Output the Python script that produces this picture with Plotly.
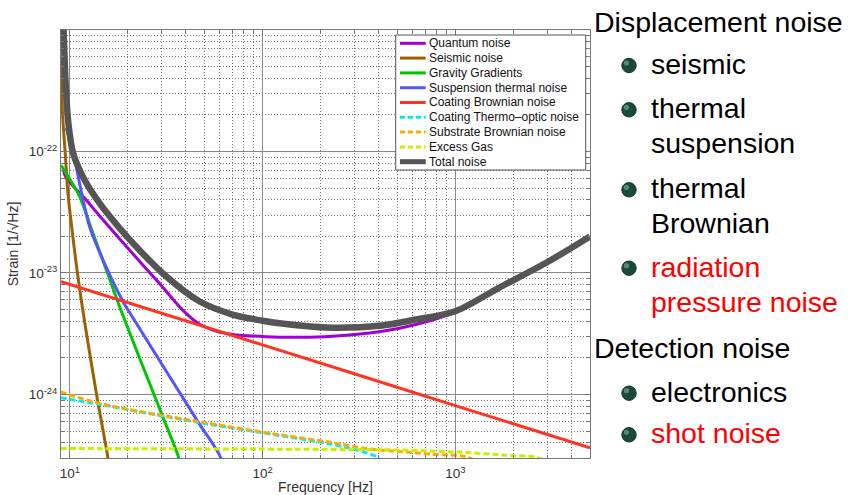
import math
import plotly.graph_objects as go

# ---------------- data (Hz, strain 1/sqrt(Hz)) ----------------
quantum_f = [9.28, 9.58, 11.92, 14.25, 19.6, 29.2, 38.5, 47.0, 57.4, 69.9, 104, 155, 230, 419, 624, 1000, 1684,
             3058, 5000]
quantum_h = [6.94e-23, 6.04e-23, 4.14e-23, 2.96e-23, 1.66e-23, 8.18e-24, 4.95e-24, 3.80e-24, 3.32e-24, 3.12e-24,
             2.99e-24, 2.96e-24, 3.02e-24, 3.32e-24, 3.77e-24, 4.77e-24, 7.45e-24, 1.23e-23, 1.95e-23]

seismic_f = [9.00, 9.17, 9.44, 9.76, 10.05, 11.22, 13.71, 15.74, 16.06]
seismic_h = [5.89e-22, 2.00e-22, 1.03e-22, 4.67e-23, 3.02e-23, 7.59e-24, 1.04e-24, 3.06e-25, 2.42e-25]

gravity_f = [9.0, 11.23, 13.16, 15.44, 18.09, 29.76, 36.6, 37.9]
gravity_h = [7.7e-23, 4.27e-23, 2.14e-23, 1.07e-23, 5.33e-24, 7.09e-25, 3.06e-25, 2.42e-25]

susp_f = [9.58, 10.36, 11.23, 12.65, 14.83, 18.82, 19.98, 46.0, 60.4, 62.0]
susp_h = [1.56e-22, 1.03e-22, 5.50e-23, 2.42e-23, 1.29e-23, 5.88e-24, 5.00e-24, 6.04e-25, 3.06e-25, 2.42e-25]

coatbr_f = [9, 100, 1000, 5000]
coatbr_h = [8.5e-24, 2.56e-24, 8.1e-25, 3.63e-25]

coatto_f = [8.95, 14.25, 47.0, 155, 230.5, 343.4, 394, 427]
coatto_h = [9.41e-25, 8.29e-25, 5.87e-25, 4.33e-25, 3.89e-25, 3.32e-25, 3.04e-25, 2.61e-25]

subbr_f = [8.95, 14.25, 47.0, 155, 230.5, 343.4, 512.7, 760, 1132, 1327]
subbr_h = [1.05e-24, 8.45e-25, 5.96e-25, 4.40e-25, 4.02e-25, 3.59e-25, 3.39e-25, 3.22e-25, 3.08e-25, 2.77e-25]

gas_f = [8.95, 155, 513, 1132, 1824, 2557, 3058]
gas_h = [3.59e-25, 3.54e-25, 3.49e-25, 3.33e-25, 3.16e-25, 3.06e-25, 2.77e-25]

total_f = [9.20, 9.28, 9.56, 9.85, 10.36, 11.23, 12.4, 13.97, 15.13, 21.2, 31.6, 47.0, 69.9, 104, 155, 230, 419,
           624, 1000, 1684, 3058, 5000]
total_h = [1.46e-21, 1.0e-21, 3.09e-22, 1.66e-22, 9.94e-23, 7.07e-23, 5.23e-23, 3.94e-23, 3.32e-23, 1.77e-23,
           9.39e-24, 5.85e-24, 4.55e-24, 4.01e-24, 3.70e-24, 3.54e-24, 3.70e-24, 4.14e-24, 4.84e-24, 7.55e-24,
           1.25e-23, 2.0e-23]

x_tick_vals = [10, 100, 1000]
x_tick_text = ["10<sup>1</sup>", "10<sup>2</sup>", "10<sup>3</sup>"]
y_tick_vals = [1e-24, 1e-23, 1e-22]
y_tick_text = ["10<sup>-24</sup>", "10<sup>-23</sup>", "10<sup>-22</sup>"]

notes_text = ["Displacement noise", "seismic", "thermal", "suspension", "thermal", "Brownian",
              "radiation", "pressure noise", "Detection noise", "electronics", "shot noise"]
notes_color = ["black", "black", "black", "black", "black", "black",
               "red", "red", "black", "black", "red"]
notes_indent = [0, 1, 1, 1, 1, 1, 1, 1, 0, 1, 1]
notes_bullet = [False, True, True, False, True, False, True, False, False, True, True]

# ---------------- styling ----------------
series = [
    ("Quantum noise", quantum_f, quantum_h, "#a000d2", 3, "solid"),
    ("Seismic noise", seismic_f, seismic_h, "#9a6200", 3, "solid"),
    ("Gravity Gradients", gravity_f, gravity_h, "#00c800", 3, "solid"),
    ("Suspension thermal noise", susp_f, susp_h, "#5555ff", 3, "solid"),
    ("Coating Brownian noise", coatbr_f, coatbr_h, "#ff3322", 3, "solid"),
    ("Coating Thermo\u2013optic noise", coatto_f, coatto_h, "#00eeee", 3, "6px,3px"),
    ("Substrate Brownian noise", subbr_f, subbr_h, "#ffaa00", 3, "6px,3px"),
    ("Excess Gas", gas_f, gas_h, "#ccee00", 3, "6px,3px"),
    ("Total noise", total_f, total_h, "#555555", 6.5, "solid"),
]

W, H = 848, 495
L, R, T, B = 61, 590, 30, 458
FONT = "Liberation Sans, Arial, Helvetica, sans-serif"


def px(x):
    return (x - L) / (R - L)


def py(y):
    return (B - y) / (B - T)


fig = go.Figure()
for name, f, h, color, width, dash in series:
    fig.add_trace(go.Scatter(x=f, y=h, mode="lines", name=name, showlegend=False,
                             line=dict(color=color, width=width, dash=dash, shape="spline", smoothing=0.9)))

minor_x = [k * 10 ** d for d in range(0, 4) for k in range(2, 10)]
minor_y = [k * 10.0 ** e for e in range(-25, -21) for k in range(2, 10)]

axis_common = dict(
    type="log", showline=True, linecolor="#777777", linewidth=1, mirror="ticks",
    ticks="inside", ticklen=6, tickcolor="#777777", tickmode="array", automargin=False,
    showgrid=True, gridcolor="#8a8a8a", gridwidth=1, zeroline=False,
    tickfont=dict(family=FONT, size=13.5, color="#333333"),
)

fig.update_layout(
    width=W, height=H,
    margin=dict(l=L, r=W - R, t=T, b=H - B, autoexpand=False),
    paper_bgcolor="white", plot_bgcolor="white",
    font=dict(family=FONT, color="#333333"),
    xaxis=dict(axis_common, range=[math.log10(9), math.log10(5000)],
               tickvals=x_tick_vals, ticktext=x_tick_text, ticklabelstandoff=3,
               minor=dict(tickmode="array", tickvals=minor_x, ticks="inside", ticklen=3, tickcolor="#777777",
                          showgrid=True, griddash="1px,2px", gridcolor="#777777", gridwidth=1),
               title=dict(text="Frequency [Hz]", font=dict(family=FONT, size=14, color="#333333"), standoff=7)),
    yaxis=dict(axis_common, range=[math.log10(3e-25), -21],
               tickvals=y_tick_vals, ticktext=y_tick_text,
               minor=dict(tickmode="array", tickvals=minor_y, ticks="inside", ticklen=3, tickcolor="#777777",
                          showgrid=True, griddash="1px,2px", gridcolor="#777777", gridwidth=1),
               title=dict(text="Strain [1/\u221aHz]", font=dict(family=FONT, size=14, color="#333333"), standoff=6)),
)

shapes = []
annotations = []

# ---------------- manual legend ----------------
lg_x0, lg_x1, lg_y0, lg_y1 = 395.7, 585.7, 35, 170
shapes.append(dict(type="rect", xref="paper", yref="paper", x0=px(lg_x0), x1=px(lg_x1),
                   y0=py(lg_y1), y1=py(lg_y0), fillcolor="white", line=dict(color="#555555", width=1), layer="above"))
row0, drow = 43.3, 14.8
for i, (name, f, h, color, width, dash) in enumerate(series):
    yy = row0 + i * drow
    shapes.append(dict(type="line", xref="paper", yref="paper", x0=px(400), x1=px(425.7), y0=py(yy), y1=py(yy),
                       line=dict(color=color, width=min(width, 5), dash=("5px,3px" if dash != "solid" else "solid")),
                       layer="above"))
    annotations.append(dict(text=name, xref="paper", yref="paper", x=px(427), y=py(yy), xanchor="left",
                            yanchor="middle", showarrow=False,
                            font=dict(family=FONT, size=12, color="#111111")))

# ---------------- right-hand text ----------------
S = 28.5
baselines = [31.7, 74, 118.3, 153.3, 198.3, 233.3, 276.7, 311.7, 358.3, 401.7, 443.3]
for txt, col, ind, bul, bl in zip(notes_text, notes_color, notes_indent, notes_bullet, baselines):
    xl = 592 if ind == 0 else 649
    annotations.append(dict(text=txt, xref="paper", yref="paper", x=px(xl), y=py(bl - 0.3465 * S),
                            xanchor="left", yanchor="middle", showarrow=False,
                            font=dict(family=FONT, size=S, color=col)))
    if bul:
        cy = bl - 8.5
        r = 7.2
        shapes.append(dict(type="circle", xref="paper", yref="paper", x0=px(629 - r), x1=px(629 + r),
                           y0=py(cy + r), y1=py(cy - r), fillcolor="#1c4a3a", line=dict(color="#10362a", width=1)))
        shapes.append(dict(type="circle", xref="paper", yref="paper", x0=px(626.5 - 2.6), x1=px(626.5 + 2.6),
                           y0=py(cy - 2.5 + 2.6), y1=py(cy - 2.5 - 2.6), fillcolor="#6a9686",
                           line=dict(width=0), opacity=0.8))

fig.update_layout(shapes=shapes, annotations=annotations)
fig.write_html("out.html")
